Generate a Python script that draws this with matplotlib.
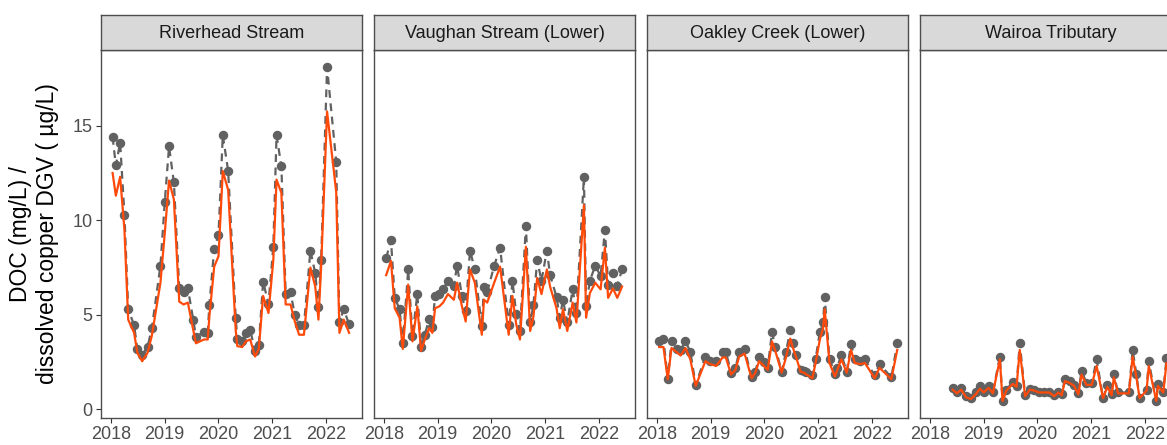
import numpy as np
import matplotlib
matplotlib.use("Agg")
import matplotlib.pyplot as plt

plt.rcParams['font.family'] = ['Liberation Sans', 'DejaVu Sans']

sites = ["Riverhead Stream", "Vaughan Stream (Lower)", "Oakley Creek (Lower)", "Wairoa Tributary"]
year_ticks = [2018, 2019, 2020, 2021, 2022]
y_ticks = [0, 5, 10, 15]

# Riverhead Stream
riverhead_t = [2018.03, 2018.09, 2018.17, 2018.25, 2018.32, 2018.43, 2018.49, 2018.58, 2018.68, 2018.76, 2018.92,
               2019.00, 2019.08, 2019.17, 2019.27, 2019.35, 2019.43, 2019.53, 2019.58, 2019.73, 2019.80, 2019.83, 2019.92,
               2020.00, 2020.08, 2020.18, 2020.32, 2020.35, 2020.44, 2020.51, 2020.59, 2020.68, 2020.75, 2020.83, 2020.93,
               2021.02, 2021.08, 2021.17, 2021.25, 2021.34, 2021.42, 2021.50, 2021.59, 2021.71, 2021.80, 2021.86, 2021.91,
               2022.02, 2022.19, 2022.25, 2022.33, 2022.43]
riverhead_doc = [14.4, 12.9, 14.1, 10.3, 5.3, 4.45, 3.2, 2.9, 3.3, 4.3, 7.6,
                 10.95, 13.9, 12.0, 6.4, 6.2, 6.4, 4.75, 3.85, 4.1, 4.05, 5.5, 8.5,
                 9.2, 14.5, 12.6, 4.85, 3.7, 3.6, 4.05, 4.2, 3.1, 3.4, 6.75, 5.6,
                 8.6, 14.5, 12.85, 6.1, 6.2, 5.0, 4.45, 4.45, 8.4, 7.2, 5.4, 7.9,
                 18.1, 13.1, 4.6, 5.3, 4.5]
riverhead_dgv = [12.5, 11.3, 12.3, 9.5, 4.75, 4.05, 3.0, 2.55, 3.0, 3.9, 6.7,
                 9.3, 12.1, 11.1, 5.7, 5.55, 5.65, 4.2, 3.5, 3.7, 3.7, 4.9, 7.55,
                 8.1, 12.6, 11.6, 4.2, 3.35, 3.3, 3.6, 3.7, 2.8, 3.2, 6.0, 5.1,
                 7.9, 12.15, 11.45, 5.55, 5.55, 4.65, 3.95, 3.95, 7.5, 6.5, 4.75, 7.55,
                 15.75, 11.5, 4.05, 4.75, 4.05]

# Vaughan Stream (Lower)
vaughan_t = [2018.04, 2018.13, 2018.20, 2018.29, 2018.35, 2018.45, 2018.53, 2018.62, 2018.69, 2018.76, 2018.84, 2018.90, 2018.95,
             2019.03, 2019.10, 2019.19, 2019.30, 2019.36, 2019.45, 2019.52, 2019.60, 2019.69, 2019.82, 2019.86, 2019.92,
             2020.05, 2020.16, 2020.32, 2020.39, 2020.46, 2020.53, 2020.64, 2020.72, 2020.78, 2020.85, 2020.93,
             2021.03, 2021.09, 2021.21, 2021.27, 2021.33, 2021.41, 2021.51, 2021.58, 2021.72, 2021.76, 2021.83, 2021.93,
             2022.03, 2022.11, 2022.17, 2022.26, 2022.34, 2022.43]
vaughan_doc = [8.0, 8.95, 5.9, 5.3, 3.5, 7.4, 3.9, 6.1, 3.3, 3.95, 4.8, 4.35, 6.0,
               6.1, 6.35, 6.8, 6.55, 7.6, 6.0, 5.2, 8.4, 7.4, 4.4, 6.5, 6.2,
               7.6, 8.55, 4.45, 6.8, 5.05, 4.15, 9.7, 4.6, 5.5, 7.9, 6.8,
               8.4, 7.1, 5.95, 4.85, 5.8, 4.6, 6.35, 5.1, 12.3, 5.45, 6.8, 7.6,
               7.05, 9.5, 6.6, 7.2, 6.55, 7.4]
vaughan_dgv = [7.1, 7.85, 5.35, 4.85, 3.2, 6.6, 3.6, 5.45, 3.1, 3.7, 4.3, 4.05, 5.35,
               5.45, 5.65, 6.1, 5.8, 6.7, 5.45, 4.65, 7.4, 6.7, 3.95, 5.8, 5.65,
               6.7, 7.55, 3.95, 6.0, 4.5, 3.7, 8.6, 4.15, 4.9, 6.95, 6.1,
               7.4, 6.5, 5.35, 4.3, 5.3, 4.15, 5.65, 4.6, 10.8, 4.85, 6.15, 6.7,
               6.35, 8.55, 5.9, 6.4, 5.9, 6.5]

# Oakley Creek (Lower)
oakley_t = [2018.04, 2018.12, 2018.20, 2018.27, 2018.38, 2018.44, 2018.53, 2018.62, 2018.72, 2018.90, 2018.99,
            2019.10, 2019.22, 2019.28, 2019.38, 2019.46, 2019.53, 2019.63, 2019.76, 2019.83, 2019.90, 2019.99,
            2020.06, 2020.14, 2020.20, 2020.32, 2020.40, 2020.48, 2020.53, 2020.59, 2020.67, 2020.73, 2020.78, 2020.89, 2020.95,
            2021.03, 2021.09, 2021.12, 2021.21, 2021.31, 2021.35, 2021.43, 2021.53, 2021.61, 2021.68, 2021.78, 2021.87,
            2022.05, 2022.14, 2022.36, 2022.47]
oakley_doc = [3.6, 3.7, 1.6, 3.6, 3.2, 3.15, 3.6, 3.05, 1.3, 2.8, 2.55,
              2.55, 3.05, 3.05, 1.95, 2.2, 3.05, 3.2, 1.7, 2.0, 2.8, 2.5,
              2.2, 4.1, 3.3, 2.0, 3.05, 4.2, 3.5, 2.9, 2.1, 2.05, 2.0, 1.8, 2.65,
              4.1, 4.6, 5.95, 2.65, 1.9, 2.2, 2.9, 2.0, 3.45, 2.65, 2.55, 2.65,
              1.8, 2.4, 1.7, 3.5]
oakley_dgv = [3.3, 3.3, 1.6, 3.25, 3.0, 2.85, 3.25, 2.65, 1.25, 2.55, 2.4,
              2.3, 2.75, 2.75, 1.85, 2.1, 2.8, 2.95, 1.65, 1.95, 2.55, 2.3,
              2.1, 3.6, 3.1, 1.95, 2.75, 3.75, 3.25, 2.75, 2.0, 1.95, 1.85, 1.65, 2.45,
              3.7, 4.3, 5.3, 2.45, 1.75, 2.05, 2.65, 1.95, 3.15, 2.45, 2.4, 2.45,
              1.65, 2.2, 1.6, 3.15]

# Wairoa Tributary
wairoa_t = [2018.42, 2018.50, 2018.58, 2018.67, 2018.76, 2018.85, 2018.93,
            2019.00, 2019.09, 2019.17, 2019.30, 2019.35, 2019.42, 2019.54, 2019.61, 2019.67, 2019.77, 2019.86, 2019.94,
            2020.02, 2020.12, 2020.22, 2020.31, 2020.39, 2020.45, 2020.51, 2020.60, 2020.68, 2020.76, 2020.82, 2020.91,
            2021.01, 2021.10, 2021.22, 2021.30, 2021.38, 2021.42, 2021.50, 2021.70, 2021.77, 2021.84, 2021.90,
            2022.03, 2022.07, 2022.21, 2022.24, 2022.34, 2022.40]
wairoa_doc = [1.15, 0.9, 1.15, 0.7, 0.6, 0.9, 1.25,
              0.95, 1.25, 0.9, 2.8, 0.45, 1.05, 1.45, 1.25, 3.5, 0.75, 1.1, 1.05,
              0.95, 0.95, 0.95, 0.75, 0.95, 0.8, 1.6, 1.5, 1.3, 0.85, 2.05, 1.4,
              1.4, 2.65, 0.6, 1.3, 0.8, 1.85, 0.9, 0.9, 3.15, 1.85, 0.6,
              1.05, 2.55, 0.45, 1.35, 0.95, 2.7]
wairoa_dgv = [1.05, 0.85, 1.05, 0.65, 0.55, 0.8, 1.1,
              0.9, 1.15, 0.85, 2.65, 0.45, 1.0, 1.35, 1.2, 3.15, 0.7, 1.05, 1.0,
              0.9, 0.9, 0.9, 0.7, 0.9, 0.75, 1.5, 1.4, 1.25, 0.8, 1.85, 1.3,
              1.3, 2.3, 0.6, 1.2, 0.75, 1.7, 0.85, 0.85, 2.8, 1.7, 0.6,
              1.0, 2.3, 0.45, 1.25, 0.9, 2.45]

series = [
    (riverhead_t, riverhead_doc, riverhead_dgv),
    (vaughan_t, vaughan_doc, vaughan_dgv),
    (oakley_t, oakley_doc, oakley_dgv),
    (wairoa_t, wairoa_doc, wairoa_dgv),
]

W, H = 1167, 445
fig = plt.figure(figsize=(W / 100, H / 100), dpi=100)

border = '#4d4d4d'
for i, (site, (t, doc, dgv)) in enumerate(zip(sites, series)):
    left = 101 + 273 * i
    ax = fig.add_axes([left / W, 27 / H, 261 / W, 368 / H])
    strip = fig.add_axes([left / W, 395 / H, 261 / W, 35 / H])

    # DOC: dashed grey with points, DGV: solid orange on top
    ax.plot(t, doc, color='#616161', lw=1.6, ls=(0, (3.5, 2.5)), zorder=2)
    ax.plot(t, doc, 'o', color='#616161', ms=5.8, zorder=3)
    ax.plot(t, dgv, color='#ff4a0a', lw=1.6, zorder=4)

    ax.set_xlim(2017.814, 2022.67)
    ax.set_ylim(-0.45, 19.0)
    ax.set_xticks(year_ticks)
    ax.set_xticklabels([str(y) for y in year_ticks])
    ax.set_yticks(y_ticks)
    ax.tick_params(axis='both', length=3.5, width=0.8, color='#333333',
                   labelcolor='#4d4d4d', labelsize=13, pad=2.5)
    if i > 0:
        ax.tick_params(axis='y', left=False, labelleft=False)
    for s in ax.spines.values():
        s.set_color(border)
        s.set_linewidth(1.0)

    strip.set_facecolor('#d9d9d9')
    strip.set_xticks([])
    strip.set_yticks([])
    for s in strip.spines.values():
        s.set_color(border)
        s.set_linewidth(1.0)
    strip.text(0.5, 0.48, site, ha='center', va='center', fontsize=13,
               color='#1a1a1a', transform=strip.transAxes)

fig.text(34 / W, 1 - 234 / H, "DOC (mg/L) /\ndissolved copper DGV ( \u00b5g/L)",
         rotation=90, ha='center', va='center', fontsize=16.5, color='black',
         linespacing=1.25)

fig.savefig('out.png', dpi=100)
